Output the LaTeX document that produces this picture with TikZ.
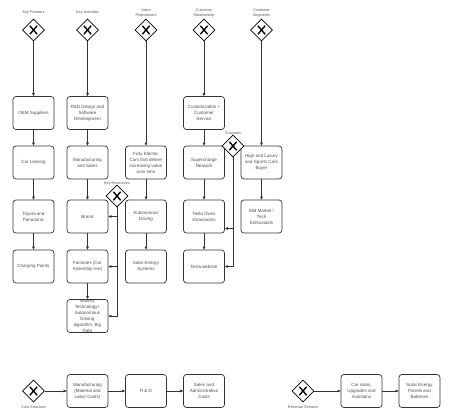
\documentclass[tikz,border=0pt]{standalone}
\usepackage{fontspec}
\setmainfont{Liberation Sans}
\usetikzlibrary{shapes.geometric,arrows.meta}
\tikzset{
 box/.style={draw=black!80, line width=0.7pt, rounded corners=3pt, minimum width=41pt, minimum height=33pt, align=center, font=\fontsize{4.5}{6}\selectfont, text=black!70, inner sep=0pt},
 gw/.style={draw=black, diamond, fill=white, minimum width=22pt, minimum height=22pt, inner sep=0pt, line width=0.7pt,
   path picture={\draw[line width=1.4pt] ([shift={(-3.6pt,-4.2pt)}]path picture bounding box.center) -- ++(7.2pt,8.4pt);
                 \draw[line width=1.4pt] ([shift={(3.6pt,-4.2pt)}]path picture bounding box.center) -- ++(-7.2pt,8.4pt);}},
 lbl/.style={font=\fontsize{3.8}{5.5}\selectfont, text=black!65, align=center, inner sep=0pt},
 arr/.style={draw=black!80, line width=0.6pt, -{Triangle[length=3pt,width=2.6pt]}},
}
\begin{document}
\begin{tikzpicture}[x=1pt,y=-1pt]
\useasboundingbox (0,0) rectangle (450,420);
% gateways
\node[gw] (g1) at (33.5,30) {};
\node[gw] (g2) at (87.5,30) {};
\node[gw] (g3) at (146,30) {};
\node[gw] (g4) at (204,30) {};
\node[gw] (g5) at (261.5,30) {};
\node[lbl] (l1) at (33.5,13) {Key Partners};
\node[lbl] (l2) at (87.5,13) {Key Activities};
\node[lbl] (l3) at (146,13) {Value\\Propositions};
\node[lbl] (l4) at (204,13) {Customer\\Relationship};
\node[lbl] (l5) at (261.5,13) {Customer\\Segments};
% column 1
\node[box] (oem) at (33.5,113) {OEM Suppliers};
\node[box] (lease) at (33.5,162.5) {Car Leasing};
\node[box] (toy) at (33.5,216.5) {Toyota and\\Panasonic};
\node[box] (chg) at (33.5,266.5) {Charging Points};
% column 2
\node[box] (rd) at (87.5,113) {R\&D Design and\\Software\\Development};
\node[box] (man) at (87.5,162.5) {Manufacturing\\and Sales};
\node[box] (brand) at (87.5,216.5) {Brand};
\node[box] (fac) at (87.5,266.5) {Factories (Car\\Assembly line)};
\node[box] (bat) at (87.5,316) {Battery\\Technology+\\Autonomous\\Driving\\algorithm, Big\\Data};
% column 3
\node[box] (fe) at (146,162.5) {Fully Electric\\Cars that deliver\\increasing value\\over time};
\node[box] (ad) at (146,216.5) {Autonomous\\Driving};
\node[box] (ses) at (146,266.5) {Solar Energy\\Systems};
% column 4
\node[box] (cust) at (204,113) {Customization +\\Customer\\Service};
\node[box] (sc) at (204,162.5) {Supercharge\\Network};
\node[box] (show) at (204,216.5) {Tesla Owns\\showrooms};
\node[box] (web) at (204,266.5) {Tesla website};
% column 5
\node[box] (hl) at (261.5,162.5) {High and Luxury\\and Sports Cars\\Buyer};
\node[box] (mm) at (261.5,216.5) {Mid Market /\\Tech\\Enthusiasts};
% key resources and channels
\node[gw] (kr) at (117,196) {};
\node[lbl] (krl) at (117,183.5) {Key Resources};
\node[gw] (ch) at (233,146) {};
\node[lbl] (chl) at (233,133.5) {Channels};
% arrows columns
\draw[arr] (g1) -- (oem);
\draw[arr] (oem) -- (lease);
\draw[arr] (lease) -- (toy);
\draw[arr] (toy) -- (chg);
\draw[arr] (g2) -- (rd);
\draw[arr] (rd) -- (man);
\draw[arr] (man) -- (brand);
\draw[arr] (brand) -- (fac);
\draw[arr] (fac) -- (bat);
\draw[arr] (g3) -- (fe);
\draw[arr] (fe) -- (ad);
\draw[arr] (ad) -- (ses);
\draw[arr] (g4) -- (cust);
\draw[arr] (cust) -- (sc);
\draw[arr] (sc) -- (show);
\draw[arr] (show) -- (web);
\draw[arr] (g5) -- (hl);
\draw[arr] (hl) -- (mm);
% key resources
\draw[arr] (kr.south) |- (brand.east);
\draw[arr] (kr.south) |- (fac.east);
\draw[arr] (kr.south) |- (bat.east);
% channels
\draw[arr] (ch.south) |- ([yshift=-12pt]show.east);
\draw[arr] (ch.south) |- (web.east);
% bottom row
\node[gw] (cs) at (33.5,391) {};
\node[lbl] (csl) at (33.5,407) {Cost Structure};
\node[box] (mc) at (87.5,391) {Manufacturing\\(Material and\\Labor Costs)};
\node[box] (rdc) at (146,391) {R \& D};
\node[box] (sac) at (204,391) {Sales and\\Administrative\\Costs};
\draw[arr] (cs) -- (mc);
\draw[arr] (mc) -- (rdc);
\draw[arr] (rdc) -- (sac);
\node[gw] (rs) at (303,391) {};
\node[lbl] (rsl) at (303,407) {Revenue Streams};
\node[box] (cars) at (361.5,391) {Car sales,\\Upgrades and\\maintains};
\node[box] (sep) at (419.5,391) {Solar Energy\\Panels and\\Batteries};
\draw[arr] (rs) -- (cars);
\draw[arr] (cars) -- (sep);
\end{tikzpicture}
\end{document}
